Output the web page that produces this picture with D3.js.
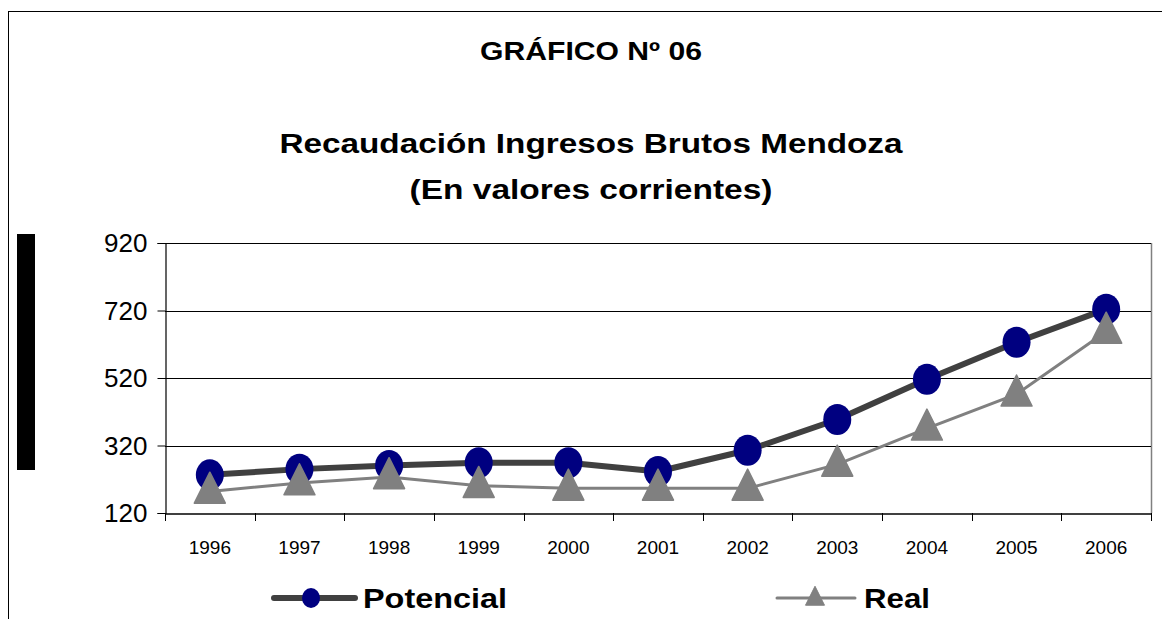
<!DOCTYPE html>
<html>
<head>
<meta charset="utf-8">
<script src="https://cdn.jsdelivr.net/npm/d3@7/dist/d3.min.js"></script>
<style>
  html, body { margin: 0; padding: 0; background: #fff; }
  svg { display: block; font-family: "Liberation Sans", Arial, sans-serif; }
</style>
</head>
<body>
<svg id="chart" width="1162" height="619"></svg>
<script>
const years = ["1996","1997","1998","1999","2000","2001","2002","2003","2004","2005","2006"];
const potencial = [233, 250, 261, 269, 269, 243, 306, 397, 516, 626, 724];
const real = [184, 209, 227, 201, 193, 193, 193, 264, 371, 472, 658];
const yTicks = [120, 320, 520, 720, 920];
const titles = ["GRÁFICO Nº 06", "Recaudación Ingresos Brutos Mendoza", "(En valores corrientes)"];
const seriesNames = ["Potencial", "Real"];

const svg = d3.select("#chart");
const W = 1162, H = 619;
const plot = {left: 165, right: 1151, top: 243, bottom: 513};

// outer frame
svg.append("rect").attr("x", 8.5).attr("y", 11.5).attr("width", W).attr("height", H)
  .attr("fill", "#fff").attr("stroke", "#000").attr("stroke-width", 1);

// black bar at left
svg.append("rect").attr("x", 17).attr("y", 234).attr("width", 18).attr("height", 236).attr("fill", "#000");

// titles
const titleSpec = [
  {y: 60, size: 25, len: 222},
  {y: 153, size: 27, len: 623},
  {y: 199, size: 27, len: 363}
];
titles.forEach((t, i) => {
  svg.append("text").attr("x", 591).attr("y", titleSpec[i].y)
    .attr("text-anchor", "middle").attr("font-weight", "bold")
    .attr("font-size", titleSpec[i].size)
    .attr("textLength", titleSpec[i].len).attr("lengthAdjust", "spacingAndGlyphs")
    .attr("fill", "#000").text(t);
});

const x = d3.scaleBand().domain(years).range([plot.left, plot.right]).padding(0);
const y = d3.scaleLinear().domain([120, 920]).range([plot.bottom, plot.top]);

// plot area border (right side gray)
svg.append("line").attr("x1", plot.right + 0.5).attr("x2", plot.right + 0.5)
  .attr("y1", plot.top).attr("y2", plot.bottom).attr("stroke", "#808080").attr("stroke-width", 1.5);
// gridlines
svg.append("g").selectAll("line").data(yTicks.filter(v => v > 120)).join("line")
  .attr("x1", plot.left).attr("x2", plot.right)
  .attr("y1", d => Math.round(y(d)) + 0.5).attr("y2", d => Math.round(y(d)) + 0.5)
  .attr("stroke", "#000").attr("stroke-width", 1);

// y axis
const yAxis = svg.append("g").attr("transform", `translate(${plot.left + 0.5},0)`)
  .call(d3.axisLeft(y).tickValues(yTicks).tickSize(8).tickPadding(10).tickFormat(d3.format("d")));
yAxis.select(".domain").attr("stroke", "#000").attr("stroke-width", 1.2);
yAxis.selectAll(".tick line").attr("stroke", "#000");
yAxis.selectAll(".tick text").attr("font-size", 26).attr("fill", "#000")
  .attr("font-family", "Liberation Sans, Arial, sans-serif").attr("dy", "0.34em");

// x axis
const xAxis = svg.append("g").attr("transform", `translate(0,${plot.bottom + 0.5})`)
  .call(d3.axisBottom(x).tickSize(0).tickPadding(27));
xAxis.select(".domain").attr("stroke", "#000").attr("stroke-width", 1.5);
xAxis.selectAll(".tick text").attr("font-size", 19).attr("fill", "#000")
  .attr("font-family", "Liberation Sans, Arial, sans-serif");
// separator tick marks at band edges
const edges = years.map(d => x(d)).concat([plot.right]);
svg.append("g").selectAll("line").data(edges).join("line")
  .attr("x1", d => Math.round(d) + 0.5).attr("x2", d => Math.round(d) + 0.5)
  .attr("y1", plot.bottom).attr("y2", plot.bottom + 8)
  .attr("stroke", "#000").attr("stroke-width", 1);

const cx = d => x(d) + x.bandwidth() / 2;
const line = d3.line().x(d => cx(d.year)).y(d => y(d.v));
const potData = years.map((yr, i) => ({year: yr, v: potencial[i]}));
const realData = years.map((yr, i) => ({year: yr, v: real[i]}));

// Potencial
svg.append("path").datum(potData).attr("d", line)
  .attr("fill", "none").attr("stroke", "#404040").attr("stroke-width", 6).attr("stroke-linejoin", "round");
svg.append("g").selectAll("ellipse").data(potData).join("ellipse")
  .attr("cx", d => cx(d.year)).attr("cy", d => y(d.v))
  .attr("rx", 14).attr("ry", 15.5).attr("fill", "#000080");

// Real
svg.append("path").datum(realData).attr("d", line)
  .attr("fill", "none").attr("stroke", "#808080").attr("stroke-width", 3);
const tri = (s) => `M0,${-s * 0.62}L${s / 2},${s * 0.38}L${-s / 2},${s * 0.38}Z`;
svg.append("g").selectAll("path").data(realData).join("path")
  .attr("transform", d => `translate(${cx(d.year)},${y(d.v)})`)
  .attr("d", tri(31)).attr("fill", "#808080").attr("stroke", "#808080")
  .attr("stroke-width", 1.5).attr("stroke-linejoin", "round");

// legend
const lg = svg.append("g");
lg.append("line").attr("x1", 274).attr("x2", 355).attr("y1", 598).attr("y2", 598)
  .attr("stroke", "#404040").attr("stroke-width", 6).attr("stroke-linecap", "round");
lg.append("ellipse").attr("cx", 311).attr("cy", 598).attr("rx", 9).attr("ry", 10).attr("fill", "#000080");
lg.append("text").attr("x", 363).attr("y", 608).attr("font-size", 28).attr("font-weight", "bold")
  .attr("textLength", 144).attr("lengthAdjust", "spacingAndGlyphs").text(seriesNames[0]);
lg.append("line").attr("x1", 777).attr("x2", 855).attr("y1", 598).attr("y2", 598)
  .attr("stroke", "#808080").attr("stroke-width", 3).attr("stroke-linecap", "round");
lg.append("path").attr("transform", "translate(815,598)").attr("d", tri(19))
  .attr("fill", "#808080").attr("stroke", "#808080").attr("stroke-linejoin", "round");
lg.append("text").attr("x", 864).attr("y", 608).attr("font-size", 28).attr("font-weight", "bold")
  .attr("textLength", 66).attr("lengthAdjust", "spacingAndGlyphs").text(seriesNames[1]);
</script>
</body>
</html>
